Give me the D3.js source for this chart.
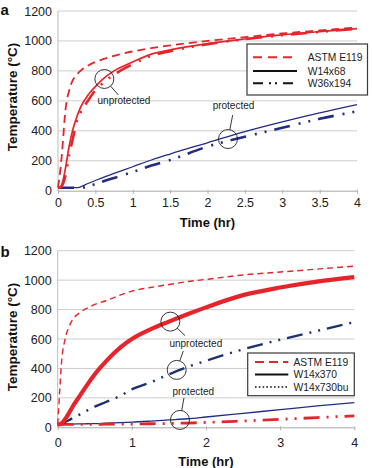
<!DOCTYPE html>
<html>
<head>
<meta charset="utf-8">
<script src="https://cdn.jsdelivr.net/npm/d3@7"></script>
<style>
  body { margin: 0; background: #fff; }
  text { font-family: "Liberation Sans", Arial, Helvetica, sans-serif; }
</style>
</head>
<body>
<script>
// time grid (hr) and temperatures (°C)
var hoursA = [0, 0.025, 0.05, 0.1, 0.15, 0.2, 0.25, 0.3, 0.4, 0.5, 0.6, 0.75, 1, 1.25, 1.5, 2, 2.5, 3, 3.5, 4];
var astmA = [20, 110, 230, 540, 670, 740, 775, 800, 835, 860, 878, 900, 930, 952, 970, 1000, 1025, 1050, 1070, 1090];
var w14x68Unprot = [20, 22, 40, 150, 300, 410, 490, 555, 637, 695, 745, 800, 860, 912, 940, 982, 1013, 1040, 1062, 1082];
var w36x194Unprot = [20, 20, 30, 100, 240, 350, 460, 520, 600, 670, 718, 775, 845, 900, 932, 978, 1012, 1038, 1060, 1082];
var w14x68Prot = [20, 20, 20, 20, 20, 20, 20, 25, 48, 68, 88, 115, 160, 205, 245, 320, 395, 460, 520, 575];
var w36x194Prot = [20, 20, 20, 20, 20, 20, 20, 20, 28, 45, 62, 85, 125, 168, 205, 295, 360, 420, 480, 530];

var hoursB = [0, 0.025, 0.05, 0.1, 0.15, 0.2, 0.3, 0.4, 0.5, 0.65, 0.85, 1, 1.25, 1.5, 1.75, 2, 2.5, 3, 3.5, 4];
var astmB = [20, 230, 430, 600, 680, 730, 780, 810, 835, 860, 900, 925, 950, 970, 990, 1005, 1035, 1055, 1075, 1095];
var w14x370Unprot = [20, 20, 25, 55, 95, 140, 215, 290, 360, 448, 545, 600, 665, 718, 768, 815, 898, 950, 990, 1020];
var w14x730buUnprot = [20, 20, 22, 35, 48, 62, 88, 115, 140, 172, 215, 258, 305, 360, 410, 452, 530, 595, 655, 715];
var w14x370Prot = [20, 20, 20, 20, 21, 22, 23, 24, 25, 28, 32, 35, 42, 50, 58, 70, 95, 120, 145, 168];
var w14x730buProt = [20, 20, 20, 20, 20, 20, 20, 20, 20, 21, 21, 22, 24, 26, 29, 33, 43, 54, 66, 78];

var tempTicks = [0, 200, 400, 600, 800, 1000, 1200];
var hourTicksA = [0, 0.5, 1, 1.5, 2, 2.5, 3, 3.5, 4];
var hourTicksB = [0, 1, 2, 3, 4];
var legendA = ["ASTM E119", "W14x68", "W36x194"];
var legendB = ["ASTM E119", "W14x370", "W14x730bu"];

var red = "#e5252b";
var navy = "#242b82";
var navyB = "#1c326c";

var svg = d3.select("body")
  .append("svg")
  .attr("width", 372)
  .attr("height", 468);

function drawPanel(p) {
  var x = d3.scaleLinear().domain([0, 4]).range([p.left, p.right]);
  var y = d3.scaleLinear().domain([0, 1200]).range([p.bottom, p.top]);
  var g = svg.append("g");

  // gridlines
  g.selectAll(".grid")
    .data(tempTicks.filter(d => d > 0))
    .enter()
    .append("line")
    .attr("x1", p.left).attr("x2", p.right)
    .attr("y1", d => y(d)).attr("y2", d => y(d))
    .attr("stroke", "#cdcdcd")
    .attr("stroke-width", 1);

  g.append("line")
    .attr("x1", p.left).attr("x2", p.left)
    .attr("y1", p.top).attr("y2", p.bottom)
    .attr("stroke", "#bdbdbd");

  var leftAxis = d3.axisLeft(y).tickValues(tempTicks).tickSize(0).tickPadding(6)
    .tickFormat(d3.format("d"));
  var ya = g.append("g").attr("transform", `translate(${p.left},0)`).call(leftAxis);
  ya.select(".domain").remove();
  ya.selectAll("text").attr("font-size", "12.5px").attr("fill", "#222")
    .style("font-family", "Liberation Sans, Arial, sans-serif");

  var bottomAxis = d3.axisBottom(x).tickValues(p.xTicks).tickSizeInner(4).tickSizeOuter(0)
    .tickPadding(p.xPad).tickFormat(d3.format("~g"));
  var xa = g.append("g").attr("transform", `translate(0,${p.bottom})`).call(bottomAxis);
  xa.select(".domain").attr("stroke", "#a8a8a8");
  xa.selectAll(".tick line").attr("stroke", "#b0b0b0").attr("transform", "translate(0,-1)");
  xa.selectAll("text").attr("font-size", "12.5px").attr("fill", "#222")
    .style("font-family", "Liberation Sans, Arial, sans-serif");

  // curves
  var line = d3.line()
    .x(d => x(d[0]))
    .y(d => y(d[1]))
    .curve(d3.curveMonotoneX);

  p.series.forEach(function(s) {
    g.append("path")
      .datum(d3.zip(p.hours, s.values))
      .attr("d", line)
      .attr("fill", "none")
      .attr("stroke", s.color)
      .attr("stroke-width", s.width)
      .attr("stroke-dasharray", s.dash || null);
  });

  // callouts
  p.notes.forEach(function(n) {
    var cx = x(n.t), cy = y(n.temp);
    g.append("circle")
      .attr("cx", cx).attr("cy", cy).attr("r", 9.5)
      .attr("fill", "none").attr("stroke", "#222").attr("stroke-width", 0.9);
    var ang = Math.atan2(n.ly, n.lx);
    g.append("line")
      .attr("x1", cx + 9.5 * Math.cos(ang)).attr("y1", cy + 9.5 * Math.sin(ang))
      .attr("x2", cx + n.lx).attr("y2", cy + n.ly)
      .attr("stroke", "#222").attr("stroke-width", 0.9);
    if (n.label) {
      g.append("text")
        .attr("x", cx + n.tx).attr("y", cy + n.ty)
        .attr("text-anchor", "middle")
        .attr("font-size", "10px")
        .attr("fill", "#222")
        .text(n.label);
    }
  });

  // legend
  var lg = g.append("g");
  lg.append("rect")
    .attr("x", p.legend.x).attr("y", p.legend.y)
    .attr("width", p.legend.w).attr("height", p.legend.h)
    .attr("fill", "#fff").attr("stroke", "#3a3a3a").attr("stroke-width", 1.2);
  p.legend.items.forEach(function(it, i) {
    var ry = p.legend.rows[i];
    lg.append("line")
      .attr("x1", p.legend.lx1).attr("x2", p.legend.lx2)
      .attr("y1", ry).attr("y2", ry)
      .attr("stroke", it.color).attr("stroke-width", it.width)
      .attr("stroke-dasharray", it.dash || null);
    lg.append("text")
      .attr("x", p.legend.tx).attr("y", ry)
      .attr("dy", "0.35em")
      .attr("font-size", "10.3px")
      .attr("fill", "#222")
      .text(it.name);
  });

  // axis titles
  g.append("text")
    .attr("transform", `translate(${p.yTitle[0]},${p.yTitle[1]}) rotate(-90)`)
    .attr("text-anchor", "middle")
    .attr("dy", "0.35em")
    .attr("font-size", "13.5px")
    .attr("font-weight", "bold")
    .attr("fill", "#111")
    .text("Temperature (°C)");

  g.append("text")
    .attr("x", (p.left + p.right) / 2)
    .attr("y", p.xTitleY)
    .attr("text-anchor", "middle")
    .attr("font-size", "13px")
    .attr("font-weight", "bold")
    .attr("fill", "#111")
    .text("Time (hr)");

  g.append("text")
    .attr("x", 0.5).attr("y", p.letterY)
    .attr("font-size", "15px")
    .attr("font-weight", "bold")
    .attr("fill", "#111")
    .text(p.letter);
}

drawPanel({
  letter: "a", letterY: 15,
  left: 58, right: 357, top: 11, bottom: 190.7,
  hours: hoursA, xTicks: hourTicksA, xPad: 3,
  yTitle: [12, 97], xTitleY: 226.5,
  series: [
    { values: w14x68Prot, color: navy, width: 1.3 },
    { values: w36x194Prot, color: navy, width: 2.6, dash: "16,9,2,8,2,8" },
    { values: astmA, color: red, width: 1.8, dash: "8,5" },
    { values: w36x194Unprot, color: red, width: 2.6, dash: "16,9,2,8,2,8" },
    { values: w14x68Unprot, color: red, width: 1.7 }
  ],
  notes: [
    { t: 0.62, temp: 746, lx: 14, ly: 16, tx: 19.6, ty: 25.5, label: "unprotected" },
    { t: 2.274, temp: 345, lx: 4.7, ly: -24, tx: 5.5, ty: -30.2, label: "protected" }
  ],
  legend: {
    x: 247, y: 44, w: 120.5, h: 51,
    lx1: 253, lx2: 297, tx: 307.7,
    rows: [57.3, 71, 83.3],
    items: [
      { name: legendA[0], color: red, width: 2, dash: "9,6" },
      { name: legendA[1], color: "#111", width: 2 },
      { name: legendA[2], color: "#111", width: 2, dash: "10,6,2,4,2,6" }
    ]
  }
});

drawPanel({
  letter: "b", letterY: 257,
  left: 57.7, right: 354.3, top: 250.7, bottom: 427.3,
  hours: hoursB, xTicks: hourTicksB, xPad: 7,
  yTitle: [12, 337], xTitleY: 465.5,
  series: [
    { values: w14x370Prot, color: navy, width: 1.3 },
    { values: w14x730buProt, color: red, width: 2.8, dash: "16,7,2,7,2,7" },
    { values: w14x730buUnprot, color: navyB, width: 2.4, dash: "16,7,2,7,2,7" },
    { values: astmB, color: red, width: 1.4, dash: "6,4" },
    { values: w14x370Unprot, color: red, width: 4.2 }
  ],
  notes: [
    { t: 1.519, temp: 718, lx: 14.7, ly: 14, tx: 25.5, ty: 25.5, label: "unprotected" },
    { t: 1.605, temp: 390, lx: 6.6, ly: -19, tx: 0, ty: 0, label: null },
    { t: 1.649, temp: 50, lx: 4, ly: -22, tx: 13.3, ty: -24.8, label: "protected" }
  ],
  legend: {
    x: 247.7, y: 353, w: 106.6, h: 42.7,
    lx1: 255, lx2: 288.3, tx: 293.5,
    rows: [362, 374.5, 387],
    items: [
      { name: legendB[0], color: red, width: 2, dash: "9,5" },
      { name: legendB[1], color: "#111", width: 2 },
      { name: legendB[2], color: "#111", width: 1.6, dash: "1.6,2.2" }
    ]
  }
});
</script>
</body>
</html>
